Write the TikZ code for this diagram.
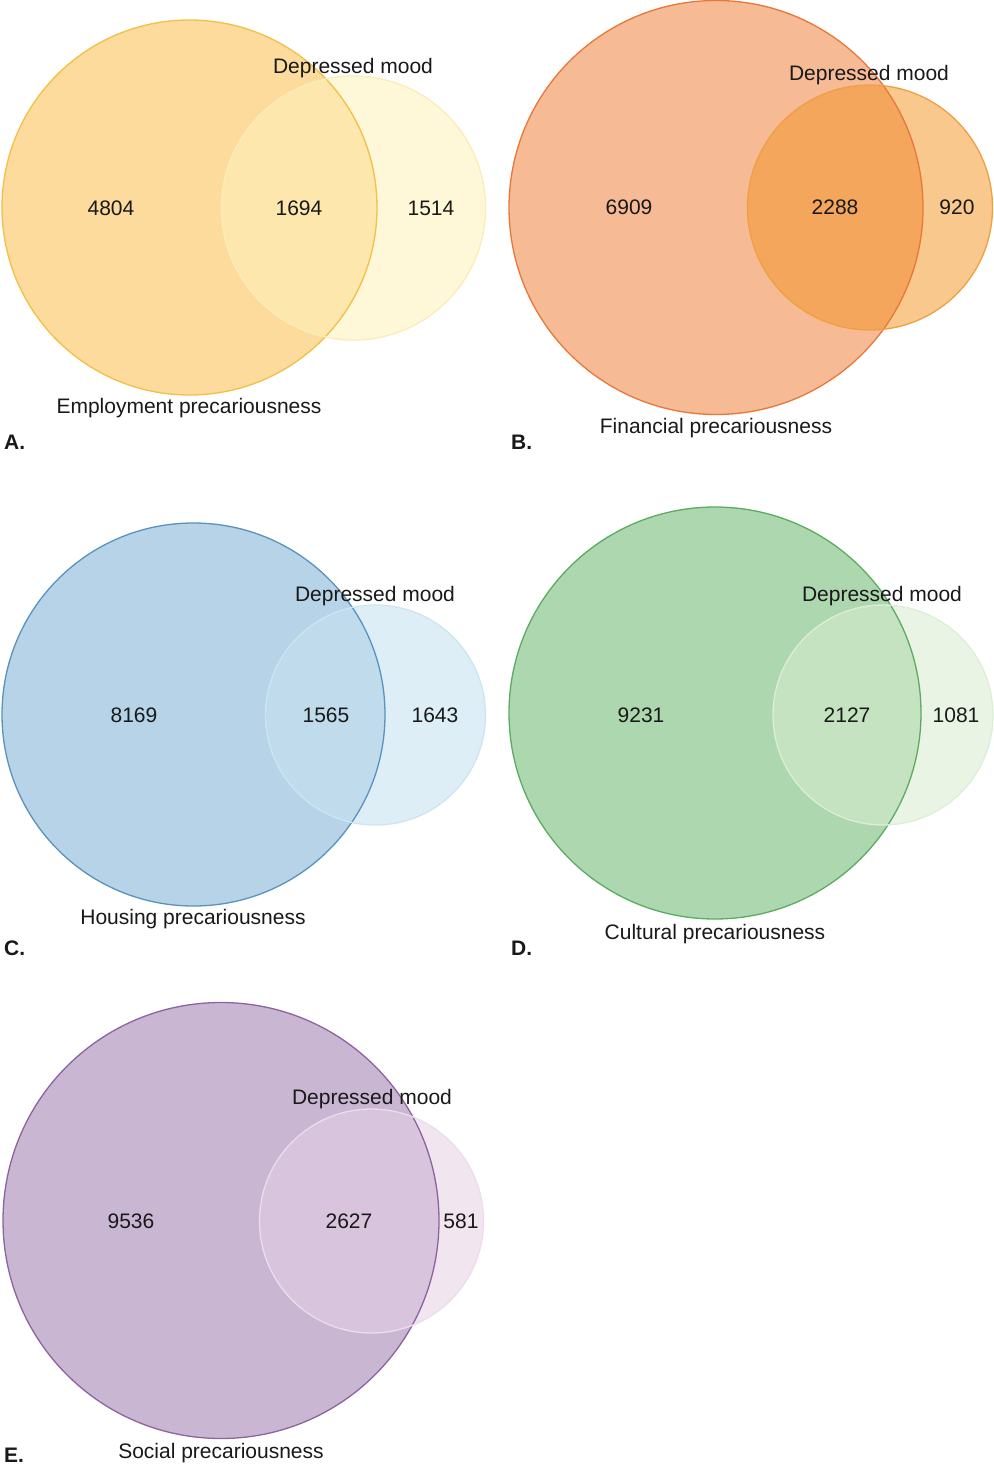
\documentclass[tikz,border=0pt]{standalone}
\usepackage{fontspec}
\setmainfont{Liberation Sans}
\begin{document}
\begin{tikzpicture}[x=1pt,y=-1pt,
  lbl/.style={inner sep=0pt,font=\fontsize{21}{25}\selectfont,text=black!90},
  tag/.style={inner sep=0pt,anchor=west,font=\fontsize{21}{25}\selectfont\bfseries,text=black!90}]
\useasboundingbox[fill=white] (0,0) rectangle (993,1464);
% #1 cx, #2 cy, #3 R, #4 sx, #5 sy, #6 r, #7 bigfill, #8 smallfill, #9 overlap
\newcommand\vennpanel[9]{%
  \fill[#7] (#1,#2) circle (#3pt);
  \fill[#8] (#4,#5) circle (#6pt);
  \begin{scope}
    \clip (#1,#2) circle (#3pt);
    \fill[#9] (#4,#5) circle (#6pt);
  \end{scope}}
\definecolor{aBig}{HTML}{FCDB9C}\definecolor{aSm}{HTML}{FEF8D9}\definecolor{aOv}{HTML}{FDE7AC}
\definecolor{aBL}{HTML}{F2BF48}\definecolor{aSL}{HTML}{FBECB8}
\definecolor{bBig}{HTML}{F6BA94}\definecolor{bSm}{HTML}{F9C88D}\definecolor{bOv}{HTML}{F3A65C}
\definecolor{bBL}{HTML}{E9773A}\definecolor{bSL}{HTML}{F0A040}
\definecolor{cBig}{HTML}{B6D3E7}\definecolor{cSm}{HTML}{DDEEF6}\definecolor{cOv}{HTML}{BFDBEC}
\definecolor{cBL}{HTML}{5A92BF}\definecolor{cSL}{HTML}{CDE5F1}
\definecolor{dBig}{HTML}{ADD7AF}\definecolor{dSm}{HTML}{EAF4E5}\definecolor{dOv}{HTML}{C5E2C1}
\definecolor{dBL}{HTML}{5BAB60}\definecolor{dSL}{HTML}{DCEED6}
\definecolor{eBig}{HTML}{C9B6D3}\definecolor{eSm}{HTML}{F1E5F0}\definecolor{eOv}{HTML}{D8C4DD}
\definecolor{eBL}{HTML}{8C64A0}\definecolor{eSL}{HTML}{EBDDEB}
% ---------- A ----------
\vennpanel{189.5}{207.5}{187.5}{353.5}{208}{132}{aBig}{aSm}{aOv}
\draw[aBL,line width=1.3pt] (189.5,207.5) circle (187.5pt);
\draw[aSL,line width=1.3pt] (353.5,208) circle (132pt);
\node[lbl] (aDM) at (353,68) {Depressed mood};
\node[lbl] (aL) at (111,208) {4804};
\node[lbl] (aM) at (299,208) {1694};
\node[lbl] (aR) at (431,208) {1514};
\node[lbl] (aX) at (189,408) {Employment precariousness};
\node[tag] (aT) at (4,442) {A.};
% ---------- B ----------
\vennpanel{716}{207.5}{207}{870}{207.5}{122.5}{bBig}{bSm}{bOv}
\draw[bBL,line width=1.3pt] (716,207.5) circle (207pt);
\draw[bSL,line width=1.3pt] (870,207.5) circle (122.5pt);
\node[lbl] (bDM) at (869,75) {Depressed mood};
\node[lbl] (bL) at (629,207) {6909};
\node[lbl] (bM) at (835,207) {2288};
\node[lbl] (bR) at (957,207) {920};
\node[lbl] (bX) at (716,428) {Financial precariousness};
\node[tag] (bT) at (511,442) {B.};
% ---------- C ----------
\vennpanel{193.5}{714.5}{191.5}{375.5}{715}{110}{cBig}{cSm}{cOv}
\draw[cBL,line width=1.3pt] (193.5,714.5) circle (191.5pt);
\draw[cSL,line width=1.3pt] (375.5,715) circle (110pt);
\node[lbl] (cDM) at (375,596) {Depressed mood};
\node[lbl] (cL) at (134,715) {8169};
\node[lbl] (cM) at (326,715) {1565};
\node[lbl] (cR) at (435,715) {1643};
\node[lbl] (cX) at (193,919) {Housing precariousness};
\node[tag] (cT) at (4,948) {C.};
% ---------- D ----------
\vennpanel{715}{713}{206}{883}{715}{110}{dBig}{dSm}{dOv}
\draw[dBL,line width=1.3pt] (715,713) circle (206pt);
\draw[dSL,line width=1.3pt] (883,715) circle (110pt);
\node[lbl] (dDM) at (882,596) {Depressed mood};
\node[lbl] (dL) at (641,715) {9231};
\node[lbl] (dM) at (847,715) {2127};
\node[lbl] (dR) at (956,715) {1081};
\node[lbl] (dX) at (715,934) {Cultural precariousness};
\node[tag] (dT) at (511,948) {D.};
% ---------- E ----------
\vennpanel{221}{1220.5}{218}{371.5}{1221}{112}{eBig}{eSm}{eOv}
\draw[eBL,line width=1.3pt] (221,1220.5) circle (218pt);
\draw[eSL,line width=1.3pt] (371.5,1221) circle (112pt);
\node[lbl] (eDM) at (372,1099) {Depressed mood};
\node[lbl] (eL) at (131,1221) {9536};
\node[lbl] (eM) at (349,1221) {2627};
\node[lbl] (eR) at (461,1221) {581};
\node[lbl] (eX) at (221,1453) {Social precariousness};
\node[tag] (eT) at (4,1455) {E.};
\end{tikzpicture}
\end{document}
